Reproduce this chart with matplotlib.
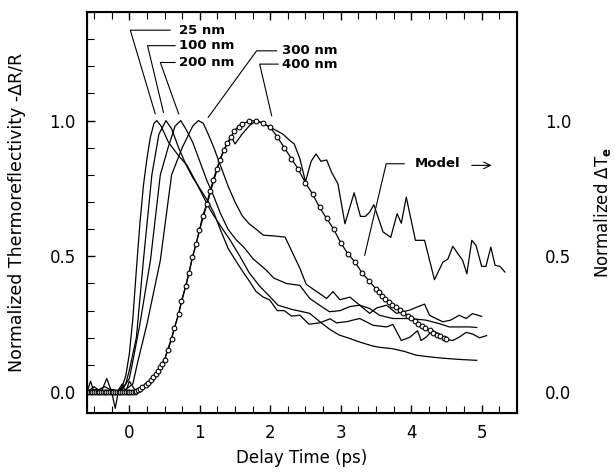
import matplotlib
matplotlib.use("Agg")
import matplotlib.pyplot as plt
from matplotlib.ticker import MultipleLocator

# measured curves (delay in ps, normalized dR/R)
x25 = [-0.6, -0.5, -0.4, -0.3, -0.2, -0.1, -0.05, 0.0, 0.05, 0.1, 0.15, 0.2, 0.25, 0.3, 0.35, 0.39,
       0.45, 0.556, 0.7, 0.82, 0.96, 1.05, 1.15, 1.3, 1.43, 1.57, 1.7, 1.85, 2.0, 2.11, 2.3, 2.56, 2.7,
       2.85, 2.98, 3.1, 3.26, 3.45, 3.55, 3.73, 3.9, 4.07, 4.25, 4.44, 4.7, 4.93]
y25 = [0.0, 0.01, 0.0, 0.0, -0.01, 0.02, 0.06, 0.14, 0.27, 0.45, 0.62, 0.76, 0.86, 0.94, 0.99, 1.0,
       0.98, 0.92, 0.87, 0.835, 0.767, 0.72, 0.67, 0.61, 0.56, 0.5, 0.44, 0.39, 0.35, 0.32, 0.305, 0.29, 0.26,
       0.23, 0.21, 0.2, 0.185, 0.17, 0.165, 0.16, 0.15, 0.136, 0.13, 0.125, 0.12, 0.117]

x100 = [-0.6, -0.45, -0.3, -0.15, -0.05, 0.0, 0.1, 0.2, 0.32, 0.42, 0.52, 0.6, 0.7, 0.8, 0.9, 1.0, 1.1,
        1.2, 1.29, 1.4, 1.52, 1.62, 1.7, 1.8, 1.9, 1.99, 2.1, 2.2, 2.3, 2.42, 2.55, 2.7, 2.85, 2.94, 3.1,
        3.17, 3.27, 3.46, 3.65, 3.74, 3.86, 3.98, 4.09, 4.14, 4.21, 4.3, 4.4, 4.47, 4.59, 4.68, 4.78,
        4.87, 4.97, 5.07]
y100 = [0.0, 0.01, 0.0, 0.0, 0.03, 0.08, 0.2, 0.485, 0.8, 0.95, 1.0, 0.97, 0.9, 0.84, 0.79, 0.75, 0.71,
        0.66, 0.6, 0.53, 0.48, 0.44, 0.41, 0.37, 0.35, 0.34, 0.3, 0.3, 0.28, 0.283, 0.25, 0.255, 0.27, 0.255,
        0.26, 0.265, 0.271, 0.246, 0.24, 0.249, 0.19, 0.202, 0.226, 0.19, 0.202, 0.226, 0.214, 0.196, 0.19,
        0.202, 0.22, 0.214, 0.2, 0.208]

x200 = [-0.6, -0.5, -0.35, -0.2, -0.1, 0.0, 0.04, 0.15, 0.3, 0.44, 0.55, 0.65, 0.73, 0.8, 0.9, 1.0,
        1.1, 1.2, 1.29, 1.4, 1.52, 1.62, 1.76, 1.85, 1.94, 2.05, 2.23, 2.42, 2.56, 2.7, 2.84, 2.99, 3.13,
        3.27, 3.41, 3.55, 3.74, 3.98, 4.21, 4.4, 4.54, 4.68, 4.83, 4.93]
y200 = [0.0, 0.0, 0.02, 0.0, 0.01, 0.05, 0.1, 0.25, 0.485, 0.8, 0.9, 0.98, 1.0, 0.97, 0.92, 0.85,
        0.78, 0.72, 0.66, 0.6, 0.56, 0.535, 0.49, 0.47, 0.45, 0.42, 0.4, 0.393, 0.345, 0.32, 0.296, 0.3,
        0.315, 0.32, 0.308, 0.283, 0.271, 0.271, 0.265, 0.252, 0.24, 0.24, 0.24, 0.238]

x300 = [-0.6, -0.5, -0.4, -0.25, -0.1, 0.05, 0.11, 0.25, 0.44, 0.6, 0.75, 0.9, 0.98, 1.05, 1.12, 1.2,
        1.3, 1.4, 1.5, 1.6, 1.7, 1.8, 1.9, 2.06, 2.21, 2.3, 2.42, 2.51, 2.66, 2.8, 2.89, 2.99, 3.13, 3.27,
        3.41, 3.51, 3.65, 3.79, 3.98, 4.09, 4.19, 4.26, 4.35, 4.45, 4.56, 4.68, 4.78, 4.87, 5.0]
y300 = [0.0, 0.02, 0.0, 0.01, 0.0, 0.03, 0.1, 0.25, 0.485, 0.8, 0.9, 0.98, 1.0, 0.99, 0.95, 0.9,
        0.83, 0.76, 0.7, 0.65, 0.62, 0.6, 0.578, 0.575, 0.571, 0.522, 0.456, 0.397, 0.37, 0.345, 0.37, 0.34,
        0.35, 0.32, 0.29, 0.31, 0.32, 0.29, 0.302, 0.314, 0.324, 0.283, 0.271, 0.259, 0.265, 0.283, 0.271,
        0.289, 0.279]

x400 = [-0.6, -0.55, -0.5, -0.45, -0.4, -0.32, -0.25, -0.2, -0.15, -0.1, -0.05, 0.0, 0.05, 0.1, 0.15,
        0.2, 0.3, 0.4, 0.5, 0.6, 0.7, 0.8, 0.9, 1.0, 1.1, 1.2, 1.29, 1.36, 1.45, 1.5, 1.6, 1.7, 1.8, 1.9,
        2.0, 2.09, 2.18, 2.28, 2.34, 2.42, 2.5, 2.58, 2.65, 2.72, 2.8, 2.87, 2.96, 3.06, 3.19, 3.28, 3.35,
        3.41, 3.47, 3.6, 3.71, 3.8, 3.86, 3.93, 4.06, 4.19, 4.33, 4.45, 4.52, 4.59, 4.73, 4.79, 4.86,
        4.92, 5.0, 5.06, 5.13, 5.19, 5.26, 5.33]
y400 = [0.0, 0.04, 0.0, 0.01, 0.0, 0.05, 0.0, -0.06, 0.01, 0.03, 0.0, 0.04, 0.02, 0.0, 0.01,
        0.02, 0.03, 0.07, 0.12, 0.2, 0.29, 0.39, 0.5, 0.6, 0.69, 0.78, 0.86, 0.9, 0.94, 0.914, 0.95, 0.98,
        1.0, 0.99, 0.975, 0.963, 0.95, 0.926, 0.914, 0.86, 0.775, 0.85, 0.877, 0.85, 0.855, 0.81, 0.767,
        0.62, 0.734, 0.647, 0.647, 0.663, 0.69, 0.59, 0.57, 0.657, 0.622, 0.718, 0.559, 0.559, 0.414,
        0.479, 0.49, 0.537, 0.485, 0.436, 0.559, 0.54, 0.463, 0.463, 0.534, 0.467, 0.463, 0.442]

# model electron temperature (right axis)
xmod = [-0.6, -0.575, -0.55, -0.525, -0.5, -0.475, -0.45, -0.425, -0.4, -0.375, -0.35, -0.325, -0.3,
        -0.275, -0.25, -0.225, -0.2, -0.175, -0.15, -0.125, -0.1, -0.075, -0.05, -0.025, 0.0, 0.025,
        0.05, 0.075, 0.1, 0.125, 0.15, 0.18, 0.23, 0.27, 0.31, 0.34, 0.38, 0.41, 0.44, 0.46, 0.5, 0.55,
        0.6, 0.64, 0.7, 0.74, 0.8, 0.85, 0.895, 0.95, 0.995, 1.04, 1.1, 1.145, 1.19, 1.24, 1.29, 1.34,
        1.39, 1.44, 1.49, 1.55, 1.6, 1.7, 1.8, 1.9, 2.0, 2.1, 2.2, 2.3, 2.4, 2.5, 2.6, 2.7, 2.8, 2.9,
        3.0, 3.1, 3.2, 3.3, 3.4, 3.5, 3.54, 3.58, 3.63, 3.68, 3.73, 3.79, 3.84, 3.89, 3.95, 4.0, 4.05,
        4.1, 4.15, 4.2, 4.26, 4.31, 4.36, 4.41, 4.46, 4.5]
ymod = [0.0, 0.0, 0.0, 0.0, 0.0, 0.0, 0.0, 0.0, 0.0, 0.0, 0.0, 0.0, 0.0,
        0.0, 0.0, 0.0, 0.0, 0.0, 0.0, 0.0, 0.0, 0.0, 0.0, 0.0, 0.0, 0.0,
        0.0, 0.002, 0.004, 0.007, 0.01, 0.017, 0.026, 0.034, 0.044, 0.056, 0.066, 0.078, 0.091, 0.103,
        0.12, 0.156, 0.195, 0.236, 0.287, 0.336, 0.39, 0.44, 0.497, 0.547, 0.596, 0.648, 0.694, 0.74,
        0.78, 0.822, 0.855, 0.89, 0.917, 0.939, 0.963, 0.978, 0.988, 0.998, 1.0, 0.99, 0.975, 0.94, 0.9,
        0.86, 0.82, 0.77, 0.73, 0.68, 0.64, 0.6, 0.55, 0.51, 0.48, 0.44, 0.41, 0.38, 0.367, 0.354, 0.343,
        0.333, 0.322, 0.312, 0.303, 0.292, 0.282, 0.272, 0.262, 0.252, 0.244, 0.235, 0.227, 0.219,
        0.212, 0.206, 0.2, 0.195]

curves = [(x25, y25), (x100, y100), (x200, y200), (x300, y300), (x400, y400)]

# thickness labels: text, text position, leader line points
labels = ["25 nm", "100 nm", "200 nm", "300 nm", "400 nm"]
label_xy = [(0.71, 1.333), (0.70, 1.276), (0.70, 1.214), (2.16, 1.257), (2.16, 1.208)]
leaders = [
    [(0.58, 1.333), (0.014, 1.333), (0.368, 1.025)],
    [(0.65, 1.276), (0.259, 1.276), (0.485, 1.03)],
    [(0.65, 1.214), (0.44, 1.214), (0.70, 1.025)],
    [(2.09, 1.257), (1.806, 1.257), (1.12, 1.012)],
    [(2.11, 1.208), (1.85, 1.208), (2.02, 1.018)],
]

fig = plt.figure(figsize=(6.15, 4.74), dpi=100)
ax = fig.add_axes([0.1415, 0.1287, 0.699, 0.846])

for xs, ys in curves:
    ax.plot(xs, ys, color='black', lw=0.9)
ax.plot(xmod, ymod, color='black', lw=0.9, marker='o', ms=3.4, mfc='white', mec='black', mew=0.8)

for txt, (tx, ty), pts in zip(labels, label_xy, leaders):
    ax.text(tx, ty, txt, fontsize=9.5, fontweight='bold', va='center', ha='left')
    ax.plot([p[0] for p in pts], [p[1] for p in pts], color='black', lw=0.8)

ax.plot([3.34, 3.645, 3.90], [0.504, 0.841, 0.841], color='black', lw=0.8)
ax.text(4.05, 0.842, "Model", fontsize=9.5, fontweight='bold', va='center', ha='left')
ax.annotate("", xy=(5.18, 0.835), xytext=(4.82, 0.835),
            arrowprops=dict(arrowstyle='->', lw=0.8, color='black', mutation_scale=12))

ax.set_xlim(-0.6, 5.5)
ax.set_ylim(-0.077, 1.4)
ax.xaxis.set_major_locator(MultipleLocator(1))
ax.xaxis.set_minor_locator(MultipleLocator(0.25))
ax.yaxis.set_major_locator(MultipleLocator(0.5))
ax.yaxis.set_minor_locator(MultipleLocator(0.1))
ax.yaxis.set_major_formatter('{x:.1f}')
ax.tick_params(which='both', direction='in', top=True, right=True, labelsize=12, pad=8)
ax.tick_params(which='major', length=6, width=1)
ax.tick_params(which='minor', length=5, width=0.8)
for s in ax.spines.values():
    s.set_linewidth(1.5)

ax2 = ax.twinx()
ax2.set_ylim(ax.get_ylim())
ax2.yaxis.set_major_locator(MultipleLocator(0.5))
ax2.yaxis.set_minor_locator(MultipleLocator(0.1))
ax2.yaxis.set_major_formatter('{x:.1f}')
ax2.tick_params(which='both', direction='in', labelsize=12, pad=20, length=0)

ax.set_xlabel("Delay Time (ps)", fontsize=12)
ax.set_ylabel("Normalized Thermoreflectivity -ΔR/R", fontsize=12.5)
ax2.set_ylabel("Normalized ΔT$_\\mathbf{e}$", fontsize=12)
ax.xaxis.set_label_coords(0.5, -0.09)
ax.yaxis.set_label_coords(-0.142, 0.5)
ax2.yaxis.set_label_coords(1.175, 0.5)

fig.savefig("out.png", dpi=100)
